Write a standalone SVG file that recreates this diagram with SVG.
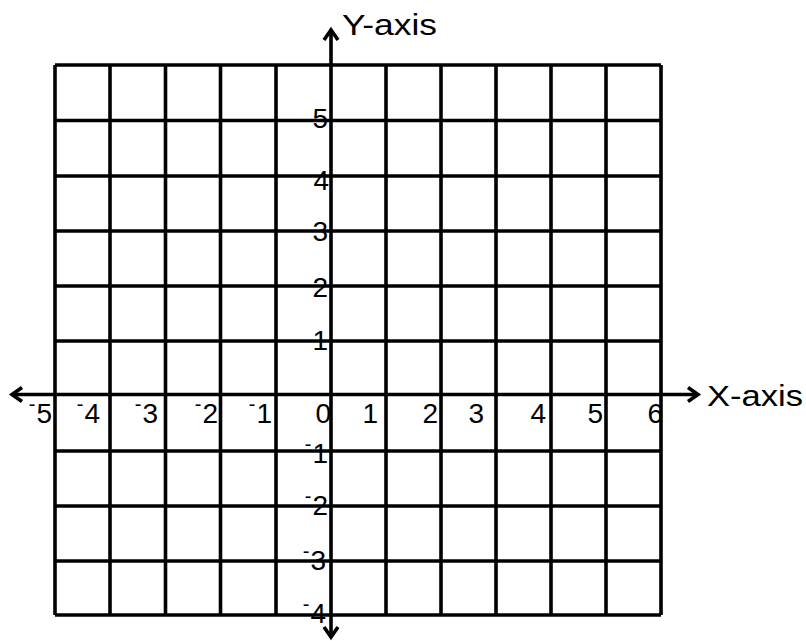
<svg xmlns="http://www.w3.org/2000/svg" width="806" height="641" viewBox="0 0 806 641">
<style>
.grid line{stroke:#000;stroke-width:3.6;fill:none}
.axis{stroke:#000;stroke-width:3.6;fill:none}
.lbl{font-family:"Liberation Sans",Arial,sans-serif;font-size:28px;fill:#000}
.neg{font-size:20px}
.ttl{font-family:"Liberation Sans",Arial,sans-serif;font-size:30px;fill:#000}
</style>
<defs>
<marker id="arr" markerUnits="userSpaceOnUse" markerWidth="20" markerHeight="20" refX="12" refY="8" orient="auto-start-reverse" viewBox="0 0 20 16">
<path d="M2,1 L12,8 L2,15" fill="none" stroke="#000" stroke-width="3.6" stroke-linejoin="miter"/>
</marker>
</defs>
<rect width="806" height="641" fill="#fff"/>
<g id="grid" class="grid">
<line x1="55" y1="65" x2="55" y2="615"/>
<line x1="110" y1="65" x2="110" y2="615"/>
<line x1="165.5" y1="65" x2="165.5" y2="615"/>
<line x1="220.5" y1="65" x2="220.5" y2="615"/>
<line x1="276" y1="65" x2="276" y2="615"/>
<line x1="386" y1="65" x2="386" y2="615"/>
<line x1="441" y1="65" x2="441" y2="615"/>
<line x1="496" y1="65" x2="496" y2="615"/>
<line x1="551" y1="65" x2="551" y2="615"/>
<line x1="606" y1="65" x2="606" y2="615"/>
<line x1="661" y1="65" x2="661" y2="615"/>
<line x1="55" y1="65" x2="661" y2="65"/>
<line x1="55" y1="120.5" x2="661" y2="120.5"/>
<line x1="55" y1="176" x2="661" y2="176"/>
<line x1="55" y1="231" x2="661" y2="231"/>
<line x1="55" y1="286" x2="661" y2="286"/>
<line x1="55" y1="341" x2="661" y2="341"/>
<line x1="55" y1="451" x2="661" y2="451"/>
<line x1="55" y1="506" x2="661" y2="506"/>
<line x1="55" y1="561" x2="661" y2="561"/>
<line x1="55" y1="615" x2="661" y2="615"/>
</g>
<g id="connectors">
<line id="x-axis" class="axis" x1="12" y1="394.5" x2="698" y2="394.5" marker-start="url(#arr)" marker-end="url(#arr)"/>
<line id="y-axis" class="axis" x1="331" y1="30" x2="331" y2="637" marker-start="url(#arr)" marker-end="url(#arr)"/>
</g>
<g id="axis-titles">
<text class="ttl" x="342" y="35" textLength="95" lengthAdjust="spacingAndGlyphs">Y-axis</text>
<text class="ttl" x="707" y="406" textLength="96" lengthAdjust="spacingAndGlyphs">X-axis</text>
</g>
<g id="x-labels" class="lbl" text-anchor="end">
<text x="52" y="423"><tspan class="neg" dy="-12">-</tspan><tspan dx="1" dy="12">5</tspan></text>
<text x="100" y="423"><tspan class="neg" dy="-12">-</tspan><tspan dx="1" dy="12">4</tspan></text>
<text x="158" y="423"><tspan class="neg" dy="-12">-</tspan><tspan dx="1" dy="12">3</tspan></text>
<text x="218" y="423"><tspan class="neg" dy="-12">-</tspan><tspan dx="1" dy="12">2</tspan></text>
<text x="272" y="423"><tspan class="neg" dy="-12">-</tspan><tspan dx="1" dy="12">1</tspan></text>
<text x="331" y="423">0</text>
<text x="378" y="423">1</text>
<text x="438" y="423">2</text>
<text x="484" y="423">3</text>
<text x="546" y="423">4</text>
<text x="603" y="423">5</text>
<text x="663" y="423">6</text>
</g>
<g id="y-labels" class="lbl" text-anchor="end">
<text x="328" y="128">5</text>
<text x="329" y="190">4</text>
<text x="328" y="241">3</text>
<text x="328" y="297">2</text>
<text x="328" y="350">1</text>
<text x="328" y="463"><tspan class="neg" dy="-12">-</tspan><tspan dx="1" dy="12">1</tspan></text>
<text x="328" y="515"><tspan class="neg" dy="-12">-</tspan><tspan dx="1" dy="12">2</tspan></text>
<text x="326" y="570"><tspan class="neg" dy="-12">-</tspan><tspan dx="1" dy="12">3</tspan></text>
<text x="326" y="623"><tspan class="neg" dy="-12">-</tspan><tspan dx="1" dy="12">4</tspan></text>
</g>
</svg>
